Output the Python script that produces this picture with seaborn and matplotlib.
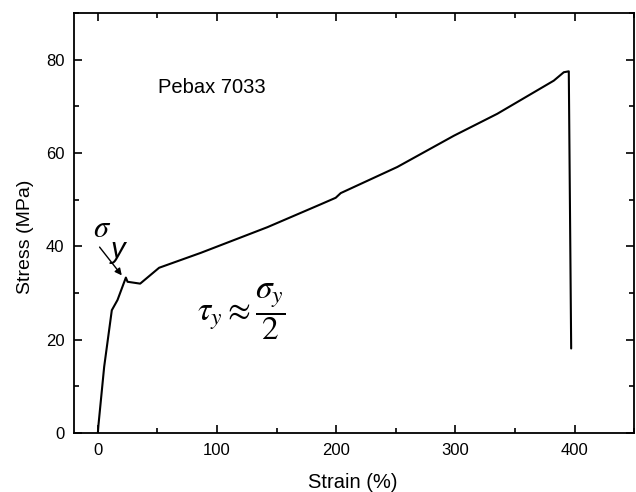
import matplotlib
matplotlib.use("Agg")
import matplotlib.pyplot as plt
import seaborn as sns
import pandas as pd
from matplotlib.ticker import MultipleLocator

# --- Data ---
strain = [0.0, 0.5, 5.3, 11.7, 16.5, 23.5, 24.9, 35.5, 51.4, 86.4, 142.3,
          187.0, 199.6, 203.8, 251.3, 298.8, 335.2, 382.6, 391.0, 395.2, 397.2]
stress = [0.0, 1.7, 14.2, 26.3, 28.5, 33.3, 32.4, 32.0, 35.4, 38.6, 44.1,
          49.0, 50.4, 51.4, 57.0, 63.7, 68.4, 75.5, 77.3, 77.5, 18.1]

df = pd.DataFrame({"Strain": strain, "Stress": stress})

# --- Style ---
sns.set_style("ticks")
plt.rcParams["font.family"] = ["Liberation Sans", "DejaVu Sans"]
plt.rcParams["mathtext.fontset"] = "stix"
plt.rcParams["text.color"] = "black"
plt.rcParams["axes.labelcolor"] = "black"
plt.rcParams["xtick.color"] = "black"
plt.rcParams["ytick.color"] = "black"

fig, ax = plt.subplots(figsize=(6.36, 4.92), dpi=100)
sns.lineplot(data=df, x="Strain", y="Stress", sort=False, color="black",
             linewidth=1.5, ax=ax)

ax.set_xlim(-20, 450)
ax.set_ylim(0, 90)
ax.xaxis.set_major_locator(MultipleLocator(100))
ax.xaxis.set_minor_locator(MultipleLocator(50))
ax.yaxis.set_major_locator(MultipleLocator(20))
ax.yaxis.set_minor_locator(MultipleLocator(10))
ax.tick_params(which="both", direction="in", top=True, right=True,
               labeltop=False, labelright=False, width=1.2, color="black")
ax.tick_params(which="major", length=6, labelsize=12, pad=7)
ax.tick_params(which="minor", length=3.5)
for sp in ax.spines.values():
    sp.set_linewidth(1.3)
    sp.set_color("black")

ax.set_xlabel("Strain (%)", fontsize=14.5)
ax.set_ylabel("Stress (MPa)", fontsize=14)
ax.xaxis.set_label_coords(0.498, -0.095)
ax.yaxis.set_label_coords(-0.071, 0.468)

# --- Annotations ---
ax.text(50.3, 72.9, "Pebax 7033", fontsize=14.5, va="baseline", ha="left")
ax.annotate("", xy=(21.5, 33.3), xytext=(0, 40.3),
            arrowprops=dict(arrowstyle="-|>", color="black", lw=1.0,
                            mutation_scale=10))
ax.text(-4.5, 41.9, r"$\sigma$", fontsize=22, ha="left", va="baseline")
ax.text(10.9, 37.6, "y", fontsize=21, style="italic", ha="left",
        va="baseline")
ax.text(120, 26, r"$\tau_y \approx \dfrac{\sigma_y}{2}$", fontsize=24,
        ha="center", va="center")

fig.subplots_adjust(left=0.1164, right=0.997, top=0.9736, bottom=0.12)
fig.savefig("out.png", dpi=100)
